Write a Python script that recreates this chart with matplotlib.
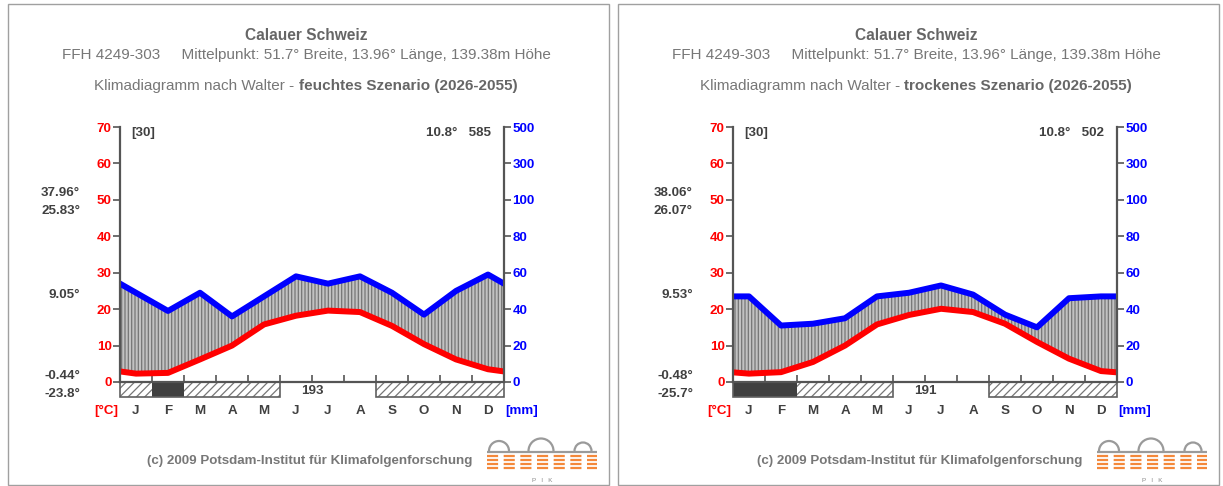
import numpy as np
import matplotlib.pyplot as plt
from matplotlib.patches import Rectangle, Arc

plt.rcParams['font.family'] = ['Liberation Sans', 'DejaVu Sans']
plt.rcParams['hatch.linewidth'] = 0.9

W, H = 1223, 486

months = ['J', 'F', 'M', 'A', 'M', 'J', 'J', 'A', 'S', 'O', 'N', 'D']

station = 'Calauer Schweiz'
station_info = 'FFH 4249-303     Mittelpunkt: 51.7° Breite, 13.96° Länge, 139.38m Höhe'

# feuchtes Szenario
wet_temp = [2.3, 2.5, 6.2, 10.0, 15.8, 18.2, 19.6, 19.2, 15.4, 10.4, 6.2, 3.5]
wet_prec = [49, 39, 49, 36, 47, 58, 54, 58, 49, 37, 50, 59]
wet_frost = [1, 2, 1, 1, 1, 0, 0, 0, 1, 1, 1, 1]  # 2 = sicherer Frost, 1 = moeglicher Frost
wet_side = ['37.96°', '25.83°', '9.05°', '-0.44°', '-23.8°']
wet_frostfree = '193'
wet_mean = '10.8°'
wet_sum = '585'

# trockenes Szenario
dry_temp = [2.3, 2.7, 5.5, 10.0, 15.8, 18.4, 20.1, 19.2, 16.0, 11.0, 6.4, 3.0]
dry_prec = [47, 31, 32, 35, 47, 49, 53, 48, 37, 30, 46, 47]
dry_frost = [2, 2, 1, 1, 1, 0, 0, 0, 1, 1, 1, 1]
dry_side = ['38.06°', '26.07°', '9.53°', '-0.48°', '-25.7°']
dry_frostfree = '191'
dry_mean = '10.8°'
dry_sum = '502'

temp_ticks = [0, 10, 20, 30, 40, 50, 60, 70]
prec_ticks = [0, 20, 40, 60, 80, 100, 300, 500]

GRAY = '#666666'
DARK = '#404040'
FS = 9.6


def prec_to_scale(p):
    p = np.asarray(p, dtype=float)
    return np.where(p <= 100, p / 2.0, 50 + (p - 100) / 20.0)


def draw_panel(fig, fx, dx, title_bold, temp, prec, frost, side, frostfree, mean, total):
    # frame
    fig.patches.append(Rectangle(((fx + 8) / W, 1 - 485 / H), 601 / W, 481 / H,
                                 transform=fig.transFigure, fill=False, ec='#a0a0a0', lw=1))
    cx = (fx + 306) / W
    fig.text(cx, 1 - 35 / H, station, ha='center', va='center', fontsize=11.2,
             fontweight='bold', color=GRAY)
    fig.text(cx, 1 - 55 / H, station_info, ha='center', va='center', fontsize=11, color='#777777')

    # mixed normal / bold line
    t1 = fig.text(0, 1 - 86 / H, 'Klimadiagramm nach Walter - ', ha='left', va='center',
                  fontsize=11, color='#777777')
    t2 = fig.text(0, 1 - 86 / H, title_bold, ha='left', va='center', fontsize=11,
                  fontweight='bold', color=GRAY)
    r = fig.canvas.get_renderer()
    w1 = t1.get_window_extent(r).width / W
    w2 = t2.get_window_extent(r).width / W
    x0 = cx - (w1 + w2) / 2
    t1.set_x(x0)
    t2.set_x(x0 + w1)

    ax = fig.add_axes([(dx + 120) / W, 1 - 382 / H, 384 / W, 255 / H])
    ax.set_xlim(0, 12)
    ax.set_ylim(0, 70)

    x = np.arange(-0.5, 13.0, 1.0)
    t_ext = np.r_[temp[-1], temp, temp[0]]
    p_ext = prec_to_scale(np.r_[prec[-1], prec, prec[0]])
    ax.fill_between(x, t_ext, p_ext, facecolor='#c2c2c2', edgecolor='#767676',
                    hatch='|||||', linewidth=0, zorder=1)
    ax.plot(x, t_ext, color='#ff0000', lw=4.3, zorder=3)
    ax.plot(x, p_ext, color='#0000ff', lw=4.3, zorder=4)

    for s in ['top', 'right']:
        ax.spines[s].set_visible(False)
    for s in ['left', 'bottom']:
        ax.spines[s].set_color('#555555')
        ax.spines[s].set_linewidth(1.6)
        ax.spines[s].set_zorder(5)
    ax.set_yticks(temp_ticks)
    ax.set_yticklabels([str(v) for v in temp_ticks])
    ax.tick_params(axis='y', colors='#555555', labelcolor='#ff0000', length=5, width=1.2, pad=1,
                   labelsize=FS)
    for lab in ax.get_yticklabels():
        lab.set_fontweight('bold')
    ax.set_xticks(range(1, 12))
    ax.set_xticklabels([])
    ax.tick_params(axis='x', direction='in', colors='#555555', length=5, width=1.2)

    ax2 = ax.twinx()
    ax2.set_ylim(0, 70)
    for s in ['top', 'left', 'bottom']:
        ax2.spines[s].set_visible(False)
    ax2.spines['right'].set_color('#555555')
    ax2.spines['right'].set_linewidth(1.6)
    ax2.set_yticks(prec_to_scale(prec_ticks))
    ax2.set_yticklabels([str(v) for v in prec_ticks])
    ax2.tick_params(axis='y', colors='#555555', labelcolor='#0000ff', length=5, width=1.2, pad=1,
                    labelsize=FS)
    for lab in ax2.get_yticklabels():
        lab.set_fontweight('bold')

    # frost bar
    for i, code in enumerate(frost):
        if code == 2:
            ax.add_patch(Rectangle((i, -4), 1, 4, fc=DARK, ec='none', clip_on=False))
        elif code == 1:
            ax.add_patch(Rectangle((i, -4), 1, 4, fc='white', ec='#777777', hatch='////', lw=0,
                                   clip_on=False))
    i = 0
    while i < 12:
        if frost[i]:
            j = i
            while j < 12 and frost[j]:
                j += 1
            ax.add_patch(Rectangle((i, -4), j - i, 4, fill=False, ec='#606060', lw=1.2,
                                   clip_on=False))
            i = j
        else:
            i += 1
    ax.text(6, -2.4, frostfree, ha='center', va='center', fontsize=FS, fontweight='bold',
            color=DARK)

    for i, m in enumerate(months):
        ax.text(i + 0.5, -8, m, ha='center', va='center', fontsize=FS, fontweight='bold',
                color=DARK)
    ax.text(-0.05, -8, '[°C]', ha='right', va='center', fontsize=FS, fontweight='bold',
            color='#ff0000')
    ax.text(12.05, -8, '[mm]', ha='left', va='center', fontsize=FS, fontweight='bold',
            color='#0000ff')

    ax.text(0.35, 68.3, '[30]', ha='left', va='center', fontsize=FS, fontweight='bold',
            color=DARK)
    ax.text(11.6, 68.3, mean + '   ' + total, ha='right', va='center', fontsize=FS,
            fontweight='bold', color=DARK)

    side_y = [51.9, 46.9, 23.9, 1.65, -3.3]
    for lab, yy in zip(side, side_y):
        ax.text(-1.25, yy, lab, ha='right', va='center', fontsize=FS, fontweight='bold',
                color=DARK)

    # footer
    fig.text((fx + 472) / W, 1 - 461 / H, '(c) 2009 Potsdam-Institut für Klimafolgenforschung',
             ha='right', va='center', fontsize=FS, fontweight='bold', color='#777777')

    lg = fig.add_axes([(fx + 487) / W, 1 - 485 / H, 110 / W, 49 / H])
    lg.set_xlim(0, 110)
    lg.set_ylim(0, 49)
    lg.axis('off')
    for ccx, rad in [(12, 10), (54, 12.5), (96, 8.5)]:
        lg.add_patch(Arc((ccx, 34), 2 * rad, 2 * rad, theta1=0, theta2=180, color='#9a9a9a', lw=1.6))
    lg.plot([0, 110], [33, 33], color='#9a9a9a', lw=1.6)
    for yy in [29, 25, 21, 17]:
        lg.plot([0, 110], [yy, yy], color='#f4883a', lw=1.6, linestyle=(0, (5, 2.5)))
    lg.text(55, 5, 'P   I   K', ha='center', va='center', fontsize=4.5, color='#888888')


fig = plt.figure(figsize=(W / 100, H / 100), dpi=100)
fig.patch.set_facecolor('white')

draw_panel(fig, 0, 0, 'feuchtes Szenario (2026-2055)', wet_temp, wet_prec, wet_frost,
           wet_side, wet_frostfree, wet_mean, wet_sum)
draw_panel(fig, 610, 613, 'trockenes Szenario (2026-2055)', dry_temp, dry_prec, dry_frost,
           dry_side, dry_frostfree, dry_mean, dry_sum)

fig.savefig('out.png', dpi=100)
